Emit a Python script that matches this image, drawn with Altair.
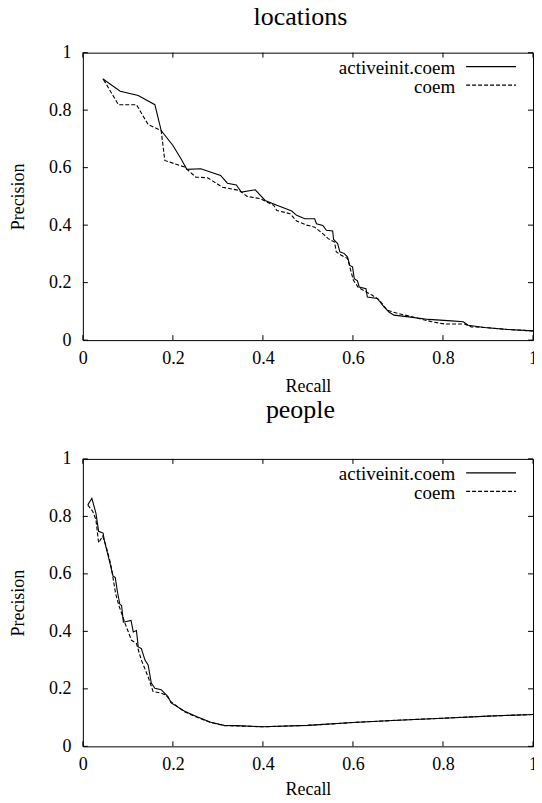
import altair as alt
import pandas as pd

FONT = "Liberation Serif, Times New Roman, Times, serif"
TICKS = [0, 0.2, 0.4, 0.6, 0.8, 1]
SERIES = ["activeinit.coem", "coem"]
TITLES = ["locations", "people"]

# locations panel
LOC_ACT_R = [0.044, 0.083, 0.123, 0.160, 0.174, 0.200, 0.218, 0.231, 0.262, 0.306, 0.321, 0.341,
             0.352, 0.383, 0.405, 0.431, 0.464, 0.475, 0.493, 0.515, 0.519, 0.533, 0.541, 0.555,
             0.557, 0.566, 0.571, 0.581, 0.588, 0.593, 0.599, 0.603, 0.610, 0.614, 0.629, 0.632,
             0.654, 0.669, 0.680, 0.691, 0.724, 0.768, 0.819, 0.845, 0.856, 0.892, 0.944, 1.0]
LOC_ACT_P = [0.909, 0.866, 0.851, 0.819, 0.729, 0.677, 0.631, 0.594, 0.596, 0.573, 0.546, 0.540,
             0.515, 0.523, 0.486, 0.469, 0.449, 0.434, 0.422, 0.422, 0.405, 0.399, 0.382, 0.380,
             0.350, 0.336, 0.307, 0.301, 0.289, 0.260, 0.255, 0.214, 0.206, 0.185, 0.179, 0.150,
             0.145, 0.116, 0.098, 0.087, 0.081, 0.072, 0.067, 0.064, 0.052, 0.044, 0.037, 0.032]
LOC_COEM_R = [0.046, 0.079, 0.119, 0.145, 0.174, 0.182, 0.226, 0.251, 0.277, 0.310, 0.347, 0.365,
              0.394, 0.424, 0.431, 0.460, 0.475, 0.497, 0.515, 0.537, 0.545, 0.559, 0.563, 0.574,
              0.588, 0.601, 0.612, 0.629, 0.643, 0.658, 0.676, 0.695, 0.731, 0.775, 0.804, 0.848,
              0.863, 0.892, 0.944, 1.0]
LOC_COEM_P = [0.906, 0.819, 0.819, 0.750, 0.729, 0.625, 0.602, 0.567, 0.565, 0.532, 0.521, 0.500,
              0.492, 0.469, 0.451, 0.440, 0.414, 0.400, 0.393, 0.365, 0.353, 0.341, 0.307, 0.295,
              0.284, 0.208, 0.183, 0.168, 0.156, 0.141, 0.104, 0.095, 0.081, 0.064, 0.056, 0.056,
              0.046, 0.044, 0.037, 0.032]

# people panel
PEO_ACT_R = [0.011, 0.020, 0.029, 0.035, 0.045, 0.048, 0.059, 0.067, 0.072, 0.077, 0.082, 0.086,
             0.090, 0.107, 0.112, 0.119, 0.123, 0.130, 0.138, 0.145, 0.152, 0.160, 0.174, 0.189,
             0.196, 0.226, 0.255, 0.284, 0.314, 0.343, 0.400, 0.500, 0.600, 0.700, 0.800, 0.900, 1.0]
PEO_ACT_P = [0.840, 0.863, 0.811, 0.748, 0.742, 0.714, 0.645, 0.593, 0.587, 0.536, 0.495, 0.490,
             0.432, 0.438, 0.398, 0.403, 0.346, 0.340, 0.300, 0.283, 0.220, 0.202, 0.197, 0.173,
             0.151, 0.122, 0.102, 0.084, 0.073, 0.072, 0.068, 0.073, 0.083, 0.091, 0.098, 0.105, 0.111]
PEO_COEM_R = [0.011, 0.022, 0.029, 0.035, 0.044, 0.051, 0.062, 0.073, 0.080, 0.094, 0.108, 0.119,
              0.130, 0.145, 0.156, 0.174, 0.185, 0.196, 0.226, 0.255, 0.284, 0.314, 0.343, 0.400,
              0.500, 0.600, 0.700, 0.800, 0.900, 1.0]
PEO_COEM_P = [0.840, 0.817, 0.789, 0.708, 0.731, 0.700, 0.633, 0.530, 0.490, 0.427, 0.369, 0.358,
              0.300, 0.242, 0.191, 0.185, 0.178, 0.155, 0.120, 0.100, 0.083, 0.072, 0.071, 0.068,
              0.073, 0.083, 0.091, 0.098, 0.105, 0.111]

W, H = 451, 288
TL = 5


def panel(title, offset, xtitle_pad, s_r, s_p, d_r, d_p):
    xs = alt.Scale(domain=[0, 1], nice=False, zero=False)
    ys = alt.Scale(domain=[0, 1], nice=False, zero=False)
    common = dict(values=TICKS, format="~g", ticks=False, domain=False, grid=False,
                  labelFont=FONT, titleFont=FONT, labelFontSize=18, titleFontSize=18,
                  titleFontWeight="normal", labelColor="black", titleColor="black",
                  labelOverlap=False)
    xaxis = alt.Axis(title="Recall", labelFlush=False, labelPadding=9,
                     titlePadding=xtitle_pad, **common)
    yaxis = alt.Axis(title="Precision", labelPadding=12, titleX=-55, **common)

    sdf = pd.DataFrame({"r": s_r, "p": s_p, "i": list(range(len(s_r)))})
    ddf = pd.DataFrame({"r": d_r, "p": d_p, "i": list(range(len(d_r)))})
    solid = alt.Chart(sdf).mark_line(color="black", strokeWidth=1.1).encode(
        x=alt.X("r:Q", scale=xs, axis=xaxis),
        y=alt.Y("p:Q", scale=ys, axis=yaxis),
        order="i:Q")
    dashed = alt.Chart(ddf).mark_line(color="black", strokeWidth=1.1, strokeDash=[4, 2]).encode(
        x=alt.X("r:Q", scale=xs, axis=xaxis),
        y=alt.Y("p:Q", scale=ys, axis=yaxis),
        order="i:Q")

    tdf = pd.DataFrame({"t": TICKS})
    xb = alt.Chart(tdf).mark_rule(color="black").encode(
        x=alt.X("t:Q", scale=xs, axis=xaxis), y=alt.value(H), y2=alt.value(H - TL))
    xt = alt.Chart(tdf).mark_rule(color="black").encode(
        x=alt.X("t:Q", scale=xs, axis=xaxis), y=alt.value(0), y2=alt.value(TL))
    yl = alt.Chart(tdf).mark_rule(color="black").encode(
        y=alt.Y("t:Q", scale=ys, axis=yaxis), x=alt.value(0), x2=alt.value(TL))
    yr = alt.Chart(tdf).mark_rule(color="black").encode(
        y=alt.Y("t:Q", scale=ys, axis=yaxis), x=alt.value(W - TL), x2=alt.value(W))

    l1 = pd.DataFrame({"label": [SERIES[0]]})
    l2 = pd.DataFrame({"label": [SERIES[1]]})
    txt1 = alt.Chart(l1).mark_text(align="right", baseline="alphabetic", font=FONT,
                                   fontSize=19, color="black").encode(
        text="label:N", x=alt.value(373), y=alt.value(21))
    txt2 = alt.Chart(l2).mark_text(align="right", baseline="alphabetic", font=FONT,
                                   fontSize=19, color="black").encode(
        text="label:N", x=alt.value(373), y=alt.value(40.5))
    ln1 = alt.Chart(l1).mark_rule(color="black", strokeWidth=1.1).encode(
        x=alt.value(384), x2=alt.value(434), y=alt.value(14))
    ln2 = alt.Chart(l2).mark_rule(color="black", strokeWidth=1.1, strokeDash=[4, 2]).encode(
        x=alt.value(384), x2=alt.value(434), y=alt.value(32.5))

    return alt.layer(solid, dashed, xb, xt, yl, yr, txt1, txt2, ln1, ln2).properties(
        width=W, height=H,
        title=alt.TitleParams(title, font=FONT, fontSize=26, fontWeight="normal",
                              color="black", anchor="middle", frame="group",
                              dx=-7.5, offset=offset))


top = panel(TITLES[0], 14, 10, LOC_ACT_R, LOC_ACT_P, LOC_COEM_R, LOC_COEM_P)
bottom = panel(TITLES[1], 27, 7, PEO_ACT_R, PEO_ACT_P, PEO_COEM_R, PEO_COEM_P)

chart = alt.vconcat(top, bottom, spacing=0).properties(
    padding={"left": 1, "top": -6, "right": -4, "bottom": -3}
).configure_view(stroke="black", strokeWidth=1)

chart.save("out.html", embed_options={"renderer": "svg", "actions": False})
